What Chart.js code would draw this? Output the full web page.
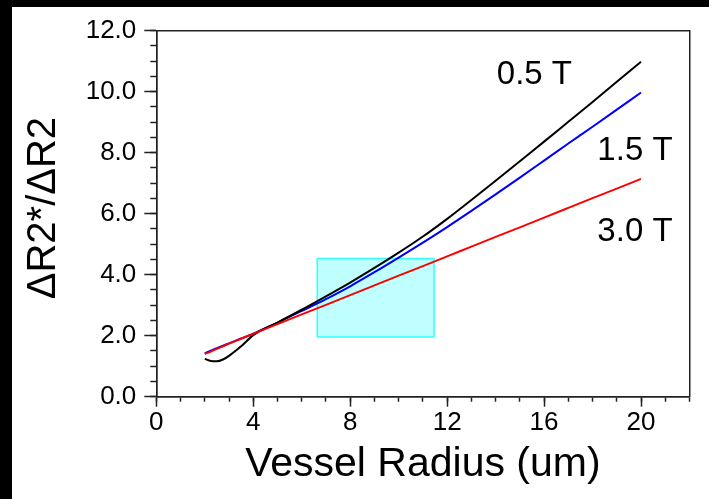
<!DOCTYPE html>
<html>
<head>
<meta charset="utf-8">
<script src="https://cdn.jsdelivr.net/npm/chart.js@4/dist/chart.umd.min.js"></script>
<style>
  html, body { margin: 0; padding: 0; background: #000; width: 709px; height: 499px; overflow: hidden; }
  #wrap { position: absolute; left: 12px; top: 7px; width: 697px; height: 492px; background: #fff; }
  canvas { display: block; }
</style>
</head>
<body>
<div id="wrap"><canvas id="c" width="697" height="492"></canvas></div>
<script>
// ---- data ----
const radius = [2, 2.25, 2.5, 2.75, 3, 3.5, 4, 5, 6, 7, 8, 9, 10, 11, 12, 13, 14, 15, 16, 17, 18, 19, 20];
const series05T = [1.24, 1.17, 1.16, 1.22, 1.34, 1.65, 2.02, 2.43, 2.85, 3.29, 3.74, 4.22, 4.72, 5.25, 5.83, 6.45, 7.08, 7.72, 8.36, 9.01, 9.66, 10.32, 10.98];
const series15T = [1.42, 1.51, 1.59, 1.67, 1.75, 1.91, 2.07, 2.43, 2.81, 3.2, 3.62, 4.08, 4.56, 5.05, 5.56, 6.09, 6.63, 7.18, 7.74, 8.3, 8.85, 9.41, 9.97];
const series30T = [1.40, 1.48, 1.57, 1.65, 1.74, 1.90, 2.06, 2.38, 2.70, 3.01, 3.33, 3.65, 3.97, 4.28, 4.60, 4.92, 5.24, 5.55, 5.87, 6.19, 6.51, 6.82, 7.14];
const seriesNames = ['0.5 T', '1.5 T', '3.0 T'];
const labelX = [15.6, 19.75, 19.75];
const labelY = [10.55, 8.07, 5.4];
const boxX = [6.64, 11.46];
const boxY = [1.96, 4.53];
const xTicksMajor = [0, 4, 8, 12, 16, 20];
const yTicksMajor = [0, 2, 4, 6, 8, 10, 12];

const FONT = '"Liberation Sans", Arial, Helvetica, sans-serif';
const AX = '#222';

const toXY = (xs, ys) => xs.map((x, i) => ({ x: x, y: ys[i] }));

const boxPts = [
  { x: boxX[0], y: boxY[0] }, { x: boxX[0], y: boxY[1] },
  { x: boxX[1], y: boxY[1] }, { x: boxX[1], y: boxY[0] },
  { x: boxX[0], y: boxY[0] }
];

const seriesLabels = {
  id: 'seriesLabels',
  afterDatasetsDraw(chart) {
    const { ctx, scales } = chart;
    ctx.save();
    ctx.font = '33px ' + FONT;
    ctx.fillStyle = '#000';
    ctx.textAlign = 'center';
    ctx.textBaseline = 'middle';
    seriesNames.forEach((t, i) => {
      ctx.fillText(t, scales.x.getPixelForValue(labelX[i]), scales.y.getPixelForValue(labelY[i]));
    });
    ctx.restore();
  }
};

new Chart(document.getElementById('c'), {
  type: 'line',
  data: {
    datasets: [
      { label: 'box', data: boxPts, borderColor: '#33ffff', backgroundColor: '#c0ffff', borderWidth: 1.5, fill: 'shape', tension: 0, order: 10, pointRadius: 0 },
      { label: seriesNames[1], data: toXY(radius, series15T), borderColor: '#0000ff', borderWidth: 2, fill: false, order: 3, pointRadius: 0, cubicInterpolationMode: 'monotone' },
      { label: seriesNames[0], data: toXY(radius, series05T), borderColor: '#000000', borderWidth: 2, fill: false, order: 2, pointRadius: 0, cubicInterpolationMode: 'monotone' },
      { label: seriesNames[2], data: toXY(radius, series30T), borderColor: '#ff0000', borderWidth: 2, fill: false, order: 1, pointRadius: 0, cubicInterpolationMode: 'monotone' }
    ]
  },
  options: {
    responsive: false,
    animation: false,
    layout: { padding: 0 },
    plugins: { legend: { display: false }, tooltip: { enabled: false } },
    scales: {
      x: {
        type: 'linear', position: 'bottom', weight: 1, min: 0, max: 22,
        afterBuildTicks: s => { s.ticks = xTicksMajor.map(v => ({ value: v })); },
        ticks: { font: { family: FONT, size: 26 }, color: '#000', padding: 1, maxRotation: 0, autoSkip: false },
        grid: { drawOnChartArea: false, tickLength: 10, tickColor: AX, tickWidth: 1.5 },
        border: { color: AX, width: 1.5 },
        title: { display: true, text: 'Vessel Radius (um)', font: { family: FONT, size: 41 }, color: '#000', padding: { top: 0, bottom: 10 } },
        afterFit: s => { s.height = 102.3; }
      },
      xMinor: {
        type: 'linear', position: 'bottom', weight: 0, min: 0, max: 22,
        ticks: { display: false, stepSize: 1, autoSkip: false },
        grid: { drawOnChartArea: false, tickLength: 5, tickColor: AX, tickWidth: 1.5 },
        border: { color: AX, width: 1.5 },
        afterFit: s => { s.height = 0; }
      },
      xTop: {
        type: 'linear', position: 'top', min: 0, max: 22,
        ticks: { display: false },
        grid: { display: false },
        border: { display: true, color: AX, width: 1.5 },
        afterFit: s => { s.height = 22.7; }
      },
      y: {
        type: 'linear', position: 'left', weight: 1, min: 0, max: 12,
        afterBuildTicks: s => { s.ticks = yTicksMajor.map(v => ({ value: v })); },
        ticks: { font: { family: FONT, size: 26 }, color: '#000', padding: 8, autoSkip: false, callback: v => Number(v).toFixed(1) },
        grid: { drawOnChartArea: false, tickLength: 12, tickColor: AX, tickWidth: 1.5 },
        border: { color: AX, width: 1.5 },
        title: { display: true, text: ' ΔR2*/ΔR2', font: { family: FONT, size: 40 }, color: '#000', padding: { top: 8, bottom: 0 } },
        afterFit: s => { s.width = 144.3; }
      },
      yMinor: {
        type: 'linear', position: 'left', weight: 0, min: 0, max: 12,
        ticks: { display: false, stepSize: 0.5, autoSkip: false },
        grid: { drawOnChartArea: false, tickLength: 6, tickColor: AX, tickWidth: 1.5 },
        border: { color: AX, width: 1.5 },
        afterFit: s => { s.width = 0; }
      },
      yRight: {
        type: 'linear', position: 'right', min: 0, max: 12,
        ticks: { display: false },
        grid: { display: false },
        border: { display: true, color: AX, width: 1.5 },
        afterFit: s => { s.width = 19.5; }
      }
    }
  },
  plugins: [seriesLabels]
});
</script>
</body>
</html>
